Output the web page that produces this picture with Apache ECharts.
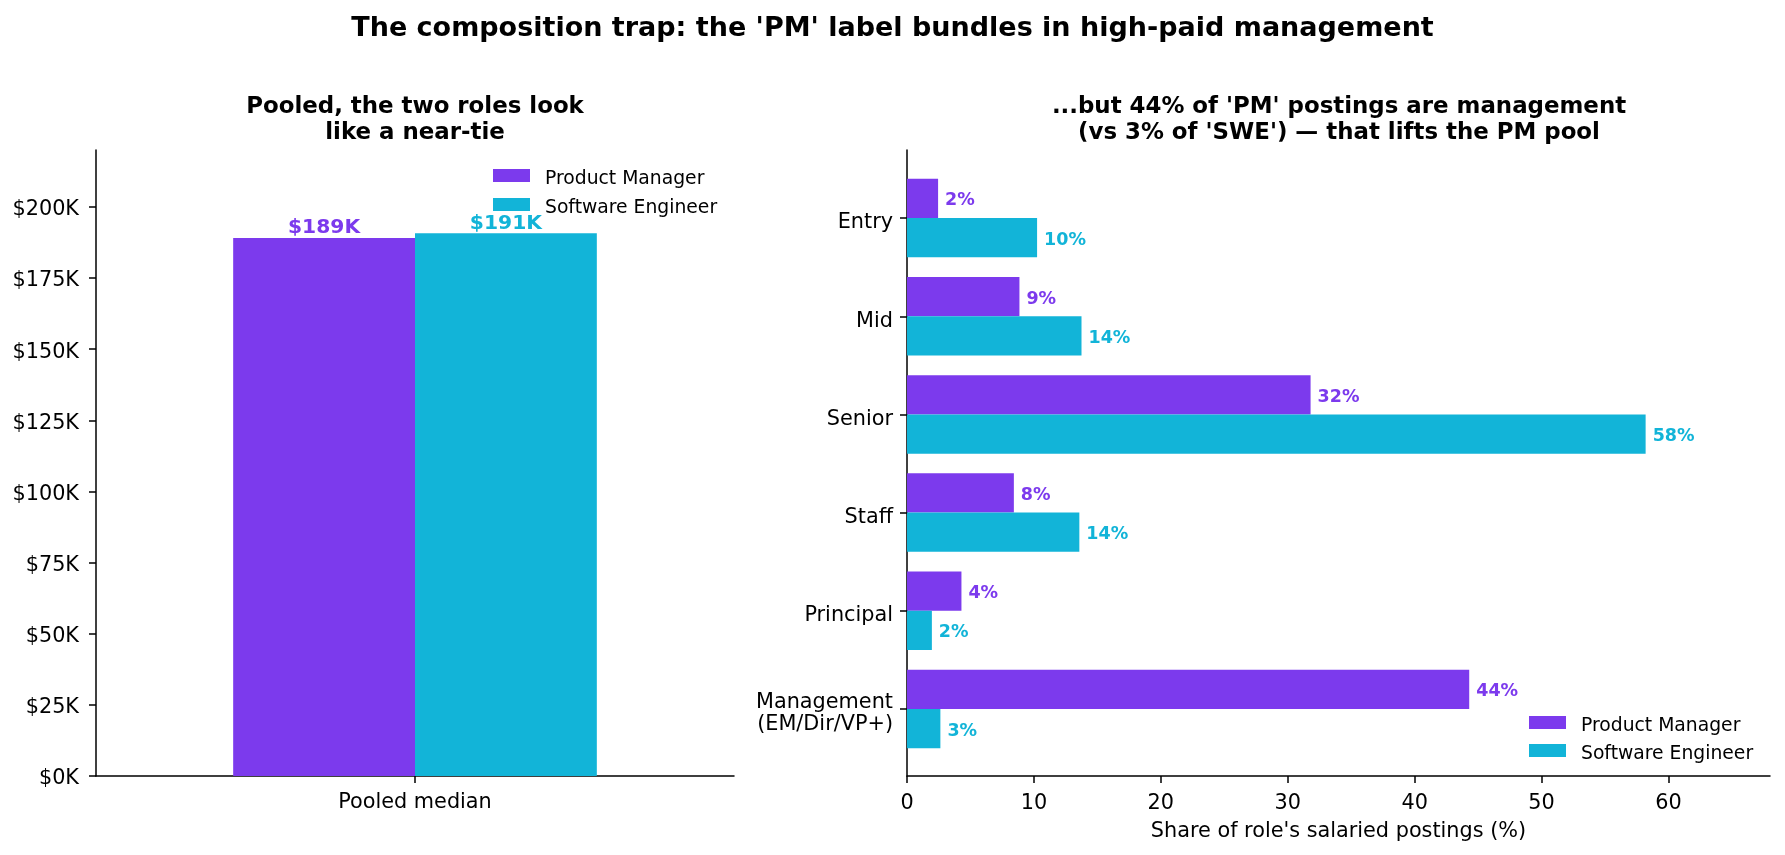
<!DOCTYPE html>
<html>
<head>
<meta charset="utf-8">
<script src="https://cdn.jsdelivr.net/npm/echarts@6/dist/echarts.min.js"></script>
<style>
  html, body { margin: 0; padding: 0; background: #fff; }
  #chart { width: 1785px; height: 855px; }
</style>
</head>
<body>
<div id="chart"></div>
<script>
// pooled medians (left panel)
const pooledCategories = ['Pooled median']
const pooledPM = [189100]
const pooledSWE = [190700]
const salaryTicks = [0, 25000, 50000, 75000, 100000, 125000, 150000, 175000, 200000]

// seniority mix (right panel)
const levels = ['Entry', 'Mid', 'Senior', 'Staff', 'Principal', 'Management\n(EM/Dir/VP+)']
const sharePM = [2.45, 8.86, 31.8, 8.42, 4.29, 44.3]
const shareSWE = [10.25, 13.75, 58.2, 13.58, 1.96, 2.63]
const shareTicks = [0, 10, 20, 30, 40, 50, 60]

const PM_COLOR = '#7c3aed'
const SWE_COLOR = '#12b4d8'
const FONT = 'DejaVu Sans'

const chart = echarts.init(document.getElementById('chart'))

const axisLine = { show: true, lineStyle: { color: '#000', width: 1.5 } }
const axisTick = { show: true, length: 7, lineStyle: { color: '#000', width: 1.5 } }
const tickLabel = { color: '#000', fontFamily: FONT, fontSize: 20.8 }
const hidden = { axisLine: { show: false }, axisTick: { show: false }, axisLabel: { show: false }, splitLine: { show: false } }

// swatch sits at the top of a taller icon box so the text lines up like matplotlib's
const LEGEND_ICON = 'path://M0,0L37,0L37,13L0,13Z M0,19.8L0.01,19.8'
const legendText = {
  color: '#000', fontFamily: FONT, fontSize: 18.75, lineHeight: 19,
  padding: [0, 0, 0, 10],
}

const fmtK = (v) => '$' + Math.round(v / 1000) + 'K'

const option = {
  backgroundColor: '#fff',
  animation: false,
  textStyle: { fontFamily: FONT },
  title: [
    {
      text: "The composition trap: the 'PM' label bundles in high-paid management",
      left: 'center', top: 13, padding: 0,
      textStyle: { fontFamily: FONT, fontSize: 27, fontWeight: 'bold', color: '#000', lineHeight: 32 },
    },
    {
      text: 'Pooled, the two roles look\nlike a near-tie',
      left: 415, top: 94, textAlign: 'center', padding: 0,
      textStyle: { fontFamily: FONT, fontSize: 22.9, fontWeight: 'bold', color: '#000', lineHeight: 26, align: 'center' },
    },
    {
      text: "...but 44% of 'PM' postings are management\n(vs 3% of 'SWE') \u2014 that lifts the PM pool",
      left: 1339, top: 94, textAlign: 'center', padding: 0,
      textStyle: { fontFamily: FONT, fontSize: 22.9, fontWeight: 'bold', color: '#000', lineHeight: 26, align: 'center' },
    },
  ],
  legend: [
    {
      orient: 'vertical', left: 493, top: 169, padding: 0, icon: LEGEND_ICON,
      itemWidth: 37, itemHeight: 19.8, itemGap: 9.2,
      data: ['Product Manager', 'Software Engineer'],
      textStyle: legendText,
    },
    {
      orient: 'vertical', left: 1529, top: 716, padding: 0, icon: LEGEND_ICON,
      itemWidth: 37, itemHeight: 19.8, itemGap: 8.2,
      data: ['Product Manager', 'Software Engineer'],
      textStyle: legendText,
    },
  ],
  grid: [
    { left: 96, right: 1051, top: 150, bottom: 79 },   // left panel
    { left: 907, right: 15, top: 150, bottom: 79 },    // right panel frame
    { left: 907, right: 15, top: 169, bottom: 97 },    // right panel bars
    { left: 96, right: 1051, top: 153, bottom: 76 },   // left tick labels (nudged to match baseline)
    { left: 907, right: 15, top: 174, bottom: 92 },    // right category labels
  ],
  xAxis: [
    {
      gridIndex: 0, type: 'category', data: pooledCategories,
      axisLine, axisTick: { ...axisTick, alignWithLabel: true },
      axisLabel: { ...tickLabel, margin: 16 },
      splitLine: { show: false },
    },
    {
      gridIndex: 1, type: 'value', min: 0, max: 68,
      axisLine, axisTick: { ...axisTick, customValues: shareTicks },
      axisLabel: { ...tickLabel, margin: 17, customValues: shareTicks },
      splitLine: { show: false },
      name: "Share of role's salaried postings (%)",
      nameLocation: 'middle', nameGap: 45,
      nameTextStyle: { ...tickLabel },
    },
    { gridIndex: 2, type: 'value', min: 0, max: 68, show: false },
    { gridIndex: 3, type: 'value', min: 0, max: 1, show: false },
    { gridIndex: 4, type: 'value', min: 0, max: 68, show: false },
  ],
  yAxis: [
    {
      gridIndex: 0, type: 'value', min: 0, max: 220000,
      axisLine, axisTick: { ...axisTick, customValues: salaryTicks },
      axisLabel: { show: false },
      splitLine: { show: false },
    },
    { gridIndex: 1, type: 'value', min: 0, max: 1, ...hidden, axisLine },
    {
      gridIndex: 2, type: 'category', data: levels, inverse: true,
      axisLine: { show: false },
      axisTick: { ...axisTick, alignWithLabel: true },
      axisLabel: { show: false },
      splitLine: { show: false },
    },
    {
      gridIndex: 3, type: 'value', min: 0, max: 220000,
      axisLine: { show: false }, axisTick: { show: false }, splitLine: { show: false },
      axisLabel: { ...tickLabel, margin: 17, customValues: salaryTicks, formatter: fmtK },
    },
    {
      gridIndex: 4, type: 'category', data: levels, inverse: true,
      axisLine: { show: false }, axisTick: { show: false }, splitLine: { show: false },
      axisLabel: { ...tickLabel, margin: 14, lineHeight: 22 },
    },
  ],
  series: [
    {
      name: 'Product Manager', type: 'bar', xAxisIndex: 0, yAxisIndex: 0,
      data: pooledPM, barGap: '0%', barCategoryGap: '43%',
      itemStyle: { color: PM_COLOR },
      label: {
        show: true, position: 'top', distance: 0, color: PM_COLOR,
        fontFamily: FONT, fontWeight: 'bold', fontSize: 20.3,
        formatter: (p) => fmtK(p.value),
      },
    },
    {
      name: 'Software Engineer', type: 'bar', xAxisIndex: 0, yAxisIndex: 0,
      data: pooledSWE, barGap: '0%', barCategoryGap: '43%',
      itemStyle: { color: SWE_COLOR },
      label: {
        show: true, position: 'top', distance: 0, color: SWE_COLOR,
        fontFamily: FONT, fontWeight: 'bold', fontSize: 20.3,
        formatter: (p) => fmtK(p.value),
      },
    },
    {
      name: 'Product Manager', type: 'bar', xAxisIndex: 2, yAxisIndex: 2,
      data: sharePM, barGap: '0%', barCategoryGap: '20%',
      itemStyle: { color: PM_COLOR },
      label: {
        show: true, position: 'right', distance: 7, offset: [0, 2.5], color: PM_COLOR,
        fontFamily: FONT, fontWeight: 'bold', fontSize: 17.5,
        formatter: (p) => Math.round(p.value) + '%',
      },
    },
    {
      name: 'Software Engineer', type: 'bar', xAxisIndex: 2, yAxisIndex: 2,
      data: shareSWE, barGap: '0%', barCategoryGap: '20%',
      itemStyle: { color: SWE_COLOR },
      label: {
        show: true, position: 'right', distance: 7, offset: [0, 2.5], color: SWE_COLOR,
        fontFamily: FONT, fontWeight: 'bold', fontSize: 17.5,
        formatter: (p) => Math.round(p.value) + '%',
      },
    },
  ],
}

chart.setOption(option)
</script>
</body>
</html>
